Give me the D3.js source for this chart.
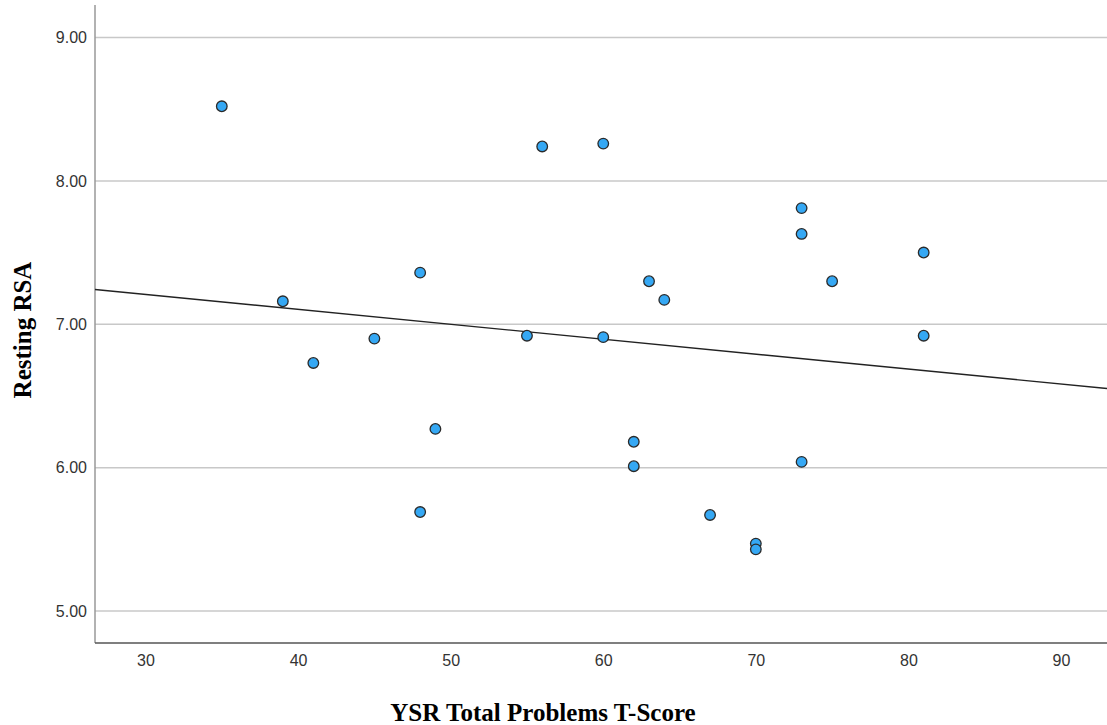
<!DOCTYPE html>
<html>
<head>
<meta charset="utf-8">
<script src="https://cdn.jsdelivr.net/npm/d3@7"></script>
<style>
  body { margin: 0; background: #fff; }
  svg { display: block; }
</style>
</head>
<body>
<svg width="1107" height="725"></svg>
<script>
// YSR total problems (x) vs resting RSA (y)
const ysrScores = [35, 39, 41, 45, 48, 48, 49, 55, 56, 60, 60, 62, 62, 63, 64, 67, 70, 70, 73, 73, 73, 75, 81, 81];
const restingRsa = [8.52, 7.16, 6.73, 6.90, 7.36, 5.69, 6.27, 6.92, 8.24, 8.26, 6.91, 6.18, 6.01, 7.30, 7.17, 5.67, 5.47, 5.43, 7.81, 7.63, 6.04, 7.30, 7.50, 6.92];
const xTicks = [30, 40, 50, 60, 70, 80, 90];
const yTicks = [5, 6, 7, 8, 9];

const points = ysrScores.map((d, i) => ({ x: d, y: restingRsa[i] }));

const plotLeft = 95, plotRight = 1107, plotTop = 5, plotBottom = 643;

var x = d3.scaleLinear().domain([30, 90]).range([145.5, 1061]);
var y = d3.scaleLinear().domain([5, 9]).range([611, 37.5]);

const svg = d3.select("svg");

// horizontal grid lines
svg.append("g")
  .selectAll("line")
  .data(yTicks)
  .enter()
  .append("line")
  .attr("x1", plotLeft)
  .attr("x2", plotRight)
  .attr("y1", d => y(d))
  .attr("y2", d => y(d))
  .style("stroke", "#c8c8c8")
  .style("stroke-width", 1.5);

// y axis
svg.append("g")
  .attr("transform", "translate(" + plotLeft + ",0)")
  .call(d3.axisLeft(y).tickValues(yTicks).tickSize(0).tickPadding(8).tickFormat(d3.format(".2f")))
  .call(g => g.select(".domain").remove())
  .selectAll("text")
  .attr("font-family", "Liberation Sans, Arial, sans-serif")
  .attr("font-size", 16)
  .attr("fill", "#333");

svg.append("line")
  .attr("x1", plotLeft).attr("x2", plotLeft)
  .attr("y1", plotTop).attr("y2", plotBottom)
  .style("stroke", "#999")
  .style("stroke-width", 1.5);

// x axis
svg.append("g")
  .attr("transform", "translate(0," + plotBottom + ")")
  .call(d3.axisBottom(x).tickValues(xTicks).tickSize(0).tickPadding(12))
  .call(g => g.select(".domain").remove())
  .selectAll("text")
  .attr("font-family", "Liberation Sans, Arial, sans-serif")
  .attr("font-size", 16)
  .attr("fill", "#333");

svg.append("line")
  .attr("x1", plotLeft).attr("x2", plotRight)
  .attr("y1", plotBottom).attr("y2", plotBottom)
  .style("stroke", "#555")
  .style("stroke-width", 1.5);

// least squares fit line
const mx = d3.mean(ysrScores), my = d3.mean(restingRsa);
const slope = d3.sum(points, d => (d.x - mx) * (d.y - my)) / d3.sum(points, d => (d.x - mx) * (d.x - mx));
const intercept = my - slope * mx;
const x0 = x.invert(plotLeft), x1 = x.invert(plotRight);

svg.append("line")
  .attr("x1", x(x0))
  .attr("x2", x(x1))
  .attr("y1", y(intercept + slope * x0))
  .attr("y2", y(intercept + slope * x1))
  .style("stroke", "#222")
  .style("stroke-width", 1.4);

// points
svg.append("g")
  .selectAll("circle")
  .data(points)
  .enter()
  .append("circle")
  .attr("cx", d => x(d.x))
  .attr("cy", d => y(d.y))
  .attr("r", 5.3)
  .style("fill", "#35a8f4")
  .style("stroke", "#2a2a2a")
  .style("stroke-width", 1.3);

// axis titles
svg.append("text")
  .attr("x", 543)
  .attr("y", 721)
  .style("text-anchor", "middle")
  .attr("font-family", "Liberation Serif, Times New Roman, serif")
  .style("font-weight", "bold")
  .style("font-size", 25)
  .text("YSR Total Problems T-Score");

svg.append("text")
  .attr("transform", "translate(31,330) rotate(-90)")
  .style("text-anchor", "middle")
  .attr("font-family", "Liberation Serif, Times New Roman, serif")
  .style("font-weight", "bold")
  .style("font-size", 25)
  .text("Resting RSA");
</script>
</body>
</html>
